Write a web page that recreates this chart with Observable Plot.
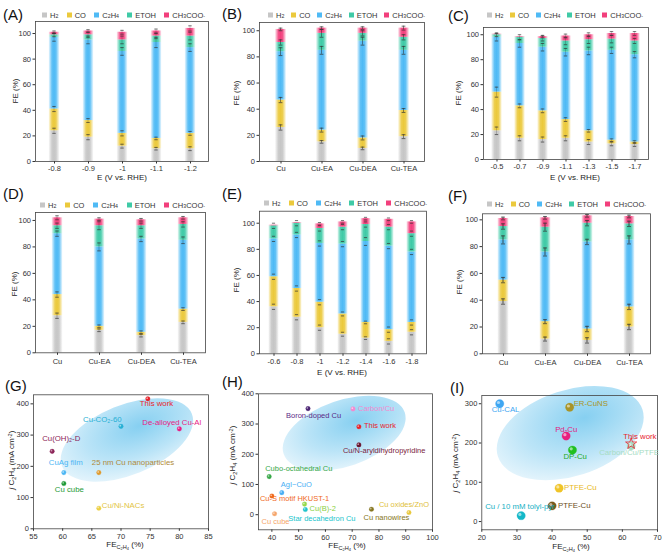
<!DOCTYPE html>
<html><head><meta charset="utf-8">
<script src="https://cdn.jsdelivr.net/npm/d3@7"></script>
<script src="https://cdn.jsdelivr.net/npm/@observablehq/plot@0.6"></script>
<style>
body{margin:0;background:#fff;font-family:"Liberation Sans",Arial,sans-serif;}
#root{position:relative;width:665px;height:556px;overflow:hidden;background:#fff;}
.abs{position:absolute;}
.plabel{position:absolute;font-size:15px;color:#111;line-height:1;transform:translateY(-50%);}
.legend{position:absolute;display:flex;justify-content:space-between;align-items:center;font-size:7.5px;color:#333;white-space:nowrap;transform:translateY(-50%);}
.legend .it{display:flex;align-items:center;}
.legend .sw{display:inline-block;width:5px;height:5px;margin-right:3px;}
.ytitle{position:absolute;font-size:8px;color:#222;line-height:1;transform:translate(-50%,-50%) rotate(-90deg);white-space:nowrap;}
.xtitle{position:absolute;font-size:8px;color:#222;line-height:1;transform:translate(-50%,-50%);white-space:nowrap;}
sub{font-size:70%;vertical-align:-0.3em;line-height:0;}
sup{font-size:70%;vertical-align:0.4em;line-height:0;}
</style></head><body><div id="root"></div>
<script>
// ---------- data ----------
const series = ["H₂","CO","C₂H₄","ETOH","CH₃COO⁻"];
const seriesHtml = ["H<sub>2</sub>","CO","C<sub>2</sub>H<sub>4</sub>","ETOH","CH<sub>3</sub>COO<sup>-</sup>"];
const seriesColors = ["#c6c6c6","#ebc93c","#4fbaf5","#3fcaa6","#f23f7c"];

const catsA = ["-0.8","-0.9","-1","-1.1","-1.2"];
const feA = [[24,17,56,2,2],[19,13,63,4,3],[12,10,64,9,6],[10,8,75,5,4],[10,12,67,9,6]];
const errA = [[2,2,3,1.5,1],[2,1.5,3,2,1],[1.5,2,3,3,1.5],[1,1,4,2,1.5],[1.5,1.5,3,3,2]];

const catsB = ["Cu","Cu-EA","Cu-DEA","Cu-TEA"];
const feB = [[26,21,37,7,10],[15,9,61,13,4],[10,8,74,6,4],[19,20,46,10,7]];
const errB = [[2,2,3,2,1],[1,1.5,3,3,1],[1,1.5,3,2,1],[1.5,1.5,3,2,1.5]];

const catsC = ["-0.5","-0.7","-0.9","-1.1","-1.3","-1.5","-1.7"];
const feC = [[23,31,44,2,0.5],[17,26,50,5,0.5],[16,23,51,7,1.5],[17,15,54,9,4],[14,9,64,9,4],[12.5,3,72,9,4.5],[12,2,70,11,6]];
const errC = [[3,4,3,1.5,0.5],[2,1.5,3,2,0.5],[2,1.5,3,2,1],[2,1.5,3,3,1.5],[2,1,3,3,1.5],[1.5,1,2.5,3,1.5],[1.5,1,2.5,2,1.5]];

const catsD = ["Cu","Cu-EA","Cu-DEA","Cu-TEA"];
const feD = [[28,16,46,6,6],[17,3,60,16,5],[13,2.5,70.5,10,4.5],[23,10,52,12,5]];
const errD = [[2,2,2,2,1.5],[1,1,3,3,1],[1,1,2,2,1],[1,1,2.5,2,1]];

const catsE = ["-0.6","-0.8","-1","-1.2","-1.4","-1.6","-1.8"];
const feE = [[36,23,29,10,0.5],[28,22,41,9,0.5],[20,19.5,45,11.5,3.5],[15,15.5,53.5,13,4],[12,12,62,13,4.5],[9.5,9,64,14.5,6],[16.5,7.5,54,14,9]];
const errE = [[2,2,2,2,0.5],[2,2,2,2,0.5],[2,2,2,2,1],[1.5,1.5,2,2,1],[1,1,3,2,1],[2,2,2,2,1],[2,2,2,2,1]];

const catsF = ["Cu","Cu-EA","Cu-DEA","Cu-TEA"];
const feF = [[39,16,30,10,6],[11,13,52,18.5,7],[10,8.5,65,14,5.5],[20,15,50,12,5.5]];
const errF = [[2,2,3,2,1],[1.5,1.5,3,3,1],[2,2,2,2,1],[2,2,3,2,1]];

const gNames = ["This work","Cu-CO₂-60","De-alloyed Cu-Al","Cu(OH)₂-D","CuAg film","25 nm Cu nanoparticles","Cu cube","Cu/Ni-NACs"];
const gFE = [74.6,70,80,58.2,60.2,66.2,60.2,66.2];
const gJ = [416,328,320,248,180,180,145,66];
const gColors = ["#e8222a","#28b0d4","#e81c84","#8c2458","#4cb6f4","#e09a2c","#1e9a36","#ecd044"];
const gLabelColors = ["#e8222a","#28b0d4","#e81c84","#8c2458","#4cb6f4","#b08a3a","#1e9a36","#e2c444"];

const hNames = ["Boron-doped Cu","Carbon/Cu","This work","Cu/N-aryldihydropyridine","Cubo-octahedral Cu","AgI−CuO","Cu-S motif HKUST-1","Cu cube","Cu(B)-2","Star decahedron Cu","Cu oxides/ZnO","Cu nanowires"];
const hFE = [53.5,70.3,72.5,72.5,39,43.7,40,41,52.2,52.5,91.2,77.2];
const hJ = [351,350,291,231,126,73,62,3,35,17,7,18];
const hColors = ["#4a2272","#f28ad0","#e8222a","#6a1630","#38a848","#48aef4","#f06a1c","#f5a66c","#96d84a","#20c4cc","#e8c83a","#857520"];
const hLabelColors = ["#5a2a86","#f28ad0","#e8222a","#7a1c40","#38a848","#48aef4","#f06a1c","#f5a66c","#8ad040","#20c4cc","#e0c03a","#857520"];

const iNames = ["Cu-CAL","ER-CuNS","Pd-Cu","DP-Cu","This work","Carbon/Cu/PTFE","PTFE-Cu","PTFE-Cu","Cu / 10 mM tolyl-pyr"];
const iFE = [25.1,45,44,45.8,62.5,62.5,42,40,31.2];
const iJ = [300,291,218,182,198,193,85,40,15];
const iColors = ["#3ea6f2","#a89428","#e8207f","#20c020","#e8222a","#a6dcc4","#f0c428","#7a5a1c","#14b8c8"];
const iLabelColors = ["#3ea6f2","#a89428","#e0207f","#1faa1f","#e8222a","#a6dcc4","#e8b820","#6b4e1a","#14b0c4"];

// ---------- layout (pixel offsets / styles) ----------
const gLabelPos = [[-8,5],[-38,-7],[-37,-6],[-10,-13],[-15,-10],[-7,-10],[-9,6],[3,-3]];
const hLabelPos = [[-22,7],[5,0],[5,-1],[-16,6],[-4,-8],[-1,-8],[-12,2.5],[-13,8],[5,4.5],[-17,9],[-30,-8],[-8,8]];
const iLabelPos = [[-8,6],[4,-4],[-11,-6],[-9,6],[-8,-7],[-32,7],[5,-1],[6,0],[-36,-9]];

const root = document.getElementById("root");
const NS = "http://www.w3.org/2000/svg";

// gradient defs
root.insertAdjacentHTML("beforeend", `<svg width="0" height="0" style="position:absolute;left:0;top:0"><defs>
${seriesColors.map((c,i)=>`<linearGradient id="barg${i}" x1="0" x2="1" y1="0" y2="0">
<stop offset="0" stop-color="${c}" stop-opacity="0.12"/>
<stop offset="0.3" stop-color="${c}" stop-opacity="0.9"/>
<stop offset="0.5" stop-color="${c}" stop-opacity="1"/>
<stop offset="0.7" stop-color="${c}" stop-opacity="0.9"/>
<stop offset="1" stop-color="${c}" stop-opacity="0.12"/></linearGradient>`).join("")}
<radialGradient id="ellg" cx="0.62" cy="0.38" r="0.75">
<stop offset="0" stop-color="#80cdf0"/><stop offset="0.55" stop-color="#b8e3f7"/><stop offset="1" stop-color="#eef8fd"/></radialGradient>
</defs></svg>`);

const baseStyle = {background:"transparent", fontFamily:"Liberation Sans, Arial, sans-serif", fontSize:"7.5px", color:"#333", overflow:"visible"};

function place(el, left, top) {
  const d = document.createElement("div");
  d.className = "abs"; d.style.left = left + "px"; d.style.top = top + "px";
  d.appendChild(el); root.appendChild(d);
}
function html(cls, x, y, content, extra) {
  const d = document.createElement("div");
  d.className = cls; d.style.left = x + "px"; d.style.top = y + "px";
  if (extra) Object.assign(d.style, extra);
  d.innerHTML = content; root.appendChild(d);
}
function legend(x1, x2, y) {
  html("legend", x1, y, seriesHtml.map((s,i)=>`<span class="it"><span class="sw" style="background:${seriesColors[i]}"></span>${s}</span>`).join(""), {width:(x2-x1)+"px"});
}

function barPanel(cats, fe, err, L) {
  const rows = [];
  cats.forEach((c, i) => {
    let acc = 0;
    fe[i].forEach((v, si) => { rows.push({cat:c, si, y1:acc, y2:acc+v, err:err[i][si]}); acc += v; });
  });
  const step = (L.width - L.ml - L.mr) / cats.length;
  const ins = (step - 11) / 2, eIns = (step - 0.8) / 2, cIns = (step - 4) / 2;
  const marks = [];
  series.forEach((s, si) => marks.push(Plot.barY(rows.filter(r => r.si === si), {x:"cat", y1:"y1", y2:"y2", fill:`url(#barg${si})`, insetLeft:ins, insetRight:ins})));
  const er = rows.filter(r => r.err > 0.6);
  marks.push(Plot.barY(er, {x:"cat", y1:r => r.y2 - r.err, y2:r => r.y2 + r.err, fill:"#333", insetLeft:eIns, insetRight:eIns}));
  marks.push(Plot.tickY(er, {x:"cat", y:r => r.y2 + r.err, stroke:"#333", strokeWidth:0.7, insetLeft:cIns, insetRight:cIns}));
  marks.push(Plot.tickY(er, {x:"cat", y:r => r.y2 - r.err, stroke:"#333", strokeWidth:0.7, insetLeft:cIns, insetRight:cIns}));
  marks.push(Plot.frame({stroke:"#444", strokeWidth:0.8}));
  const svg = Plot.plot({
    width:L.width, height:L.height, marginLeft:L.ml, marginRight:L.mr, marginTop:L.mt, marginBottom:L.mb,
    x:{domain:cats, padding:0, tickSize:2.5, tickPadding:L.tp, label:null},
    y:{domain:[0, L.ymax], ticks:5, tickSize:2.5, tickPadding:2, label:null},
    style:baseStyle, marks
  });
  place(svg, L.left, L.top);
}

function scatterPanel(names, fe, j, colors, labelColors, labelPos, L) {
  const idx = names.map((_, i) => i);
  const circ = idx.filter(i => !(L.star && names[i] === "This work"));
  const marks = [Plot.frame({stroke:"#444", strokeWidth:0.8})];
  marks.push(Plot.dot(circ, {x:i => fe[i], y:i => j[i], r:L.r, fill:i => colors[i], stroke:i => colors[i], strokeOpacity:0.6, strokeWidth:0.4}));
  marks.push(Plot.dot(circ, {x:i => fe[i], y:i => j[i], r:L.r*0.38, fill:"white", fillOpacity:0.55, dx:-L.r*0.3, dy:-L.r*0.3}));
  if (L.star) {
    const s = idx.filter(i => names[i] === "This work");
    marks.push(Plot.dot(s, {x:i => fe[i], y:i => j[i], r:3.5, symbol:"star", fill:"none", stroke:i => colors[i], strokeWidth:0.8}));
  }
  idx.forEach(i => marks.push(Plot.text([i], {x:d => fe[d], y:d => j[d], text:d => names[d], fill:labelColors[i], textAnchor:"start", dx:labelPos[i][0], dy:labelPos[i][1], fontSize:L.fs})));
  const svg = Plot.plot({
    width:L.width, height:L.height, marginLeft:L.ml, marginRight:L.mr, marginTop:L.mt, marginBottom:L.mb,
    x:{domain:L.xd, ticks:L.xt, tickSize:2.5, tickPadding:2, label:null},
    y:{domain:L.yd, ticks:L.yt, tickSize:2.5, tickPadding:2, label:null},
    color:{type:"identity"},
    style:baseStyle, marks
  });
  const sx = svg.scale("x"), sy = svg.scale("y");
  const cx = sx.apply(L.ell[0]), cy = sy.apply(L.ell[1]);
  const e = document.createElementNS(NS, "ellipse");
  e.setAttribute("cx", cx); e.setAttribute("cy", cy);
  e.setAttribute("rx", L.ell[2]); e.setAttribute("ry", L.ell[3]);
  e.setAttribute("transform", `rotate(${L.ell[4]} ${cx} ${cy})`);
  e.setAttribute("fill", "url(#ellg)"); e.setAttribute("opacity", "0.95");
  const first = svg.querySelector("style");
  svg.insertBefore(e, first ? first.nextSibling : svg.firstChild);
  place(svg, L.left, L.top);
}

// ---------- panels ----------
barPanel(catsA, feA, errA, {left:0, top:0, width:222, height:185, ml:35, mr:14, mt:21, mb:24, ymax:109.4, tp:1.5});
barPanel(catsB, feB, errB, {left:222, top:0, width:222, height:185, ml:37, mr:20, mt:22, mb:24, ymax:106.3, tp:2});
barPanel(catsC, feC, errC, {left:443, top:0, width:222, height:185, ml:40, mr:17, mt:27, mb:26, ymax:105.8, tp:1.5});
barPanel(catsD, feD, errD, {left:0, top:180, width:222, height:192, ml:35, mr:17, mt:32, mb:19.7, ymax:106, tp:3.5});
barPanel(catsE, feE, errE, {left:222, top:180, width:222, height:192, ml:37, mr:18, mt:30.7, mb:18.7, ymax:109.2, tp:2.5});
barPanel(catsF, feF, errF, {left:443, top:180, width:222, height:192, ml:39, mr:15, mt:33.3, mb:18.7, ymax:104.5, tp:3.5});

scatterPanel(gNames, gFE, gJ, gColors, gLabelColors, gLabelPos, {left:0, top:365, width:222, height:191, ml:33, mr:14, mt:29.3, mb:27.7, xd:[55,85], yd:[0,429], xt:6, yt:5, r:2.3, fs:7.8, ell:[71.1,283,70,35,-22]});
scatterPanel(hNames, hFE, hJ, hColors, hLabelColors, hLabelPos, {left:222, top:365, width:222, height:191, ml:36, mr:12, mt:28.3, mb:26.7, xd:[35,100], yd:[-50,400], xt:7, yt:5, r:2.3, fs:7.5, ell:[67.2,268,64,33,-19]});
scatterPanel(iNames, iFE, iJ, iColors, iLabelColors, iLabelPos, {left:443, top:365, width:222, height:191, ml:38.3, mr:8, mt:30, mb:26.7, xd:[20,70], yd:[-21,321], xt:5, yt:4, r:4.2, fs:7.8, star:true, ell:[45.3,224,76,43,-18]});

// ---------- legends ----------
legend(42, 205, 15);
legend(268, 425, 15);
legend(487, 643, 15);
legend(40, 205, 205);
legend(264, 427, 203);
legend(487, 646, 204);

// ---------- titles ----------
const xE = "E (V vs. RHE)";
html("ytitle", 15.5, 91, "FE (%)");
html("xtitle", 122, 178, xE);
html("ytitle", 237, 93, "FE (%)");
html("ytitle", 458.5, 93, "FE (%)");
html("xtitle", 575, 178, xE);
html("ytitle", 15, 284, "FE (%)");
html("ytitle", 237, 280, "FE (%)");
html("ytitle", 460, 282, "FE (%)");
html("xtitle", 342, 373, xE);
const jT = "<i>j</i> C<sub>2</sub>H<sub>4</sub> (mA cm<sup>-2</sup>)";
const feT = "FE<sub>C<sub>2</sub>H<sub>4</sub></sub> (%)";
html("ytitle", 12, 460, jT);
html("xtitle", 125, 545, feT);
html("ytitle", 233, 455, jT);
html("xtitle", 347, 546, feT);
html("ytitle", 456, 463, jT);
html("xtitle", 571, 547, feT);

// ---------- panel labels ----------
[["(A)",3,14],["(B)",222,13],["(C)",448,15],["(D)",3,193],["(E)",222,193],["(F)",448,195],["(G)",5,385],["(H)",222,381],["(I)",450,387]]
  .forEach(([t,x,y]) => html("plabel", x, y, t));
</script>
</body></html>
